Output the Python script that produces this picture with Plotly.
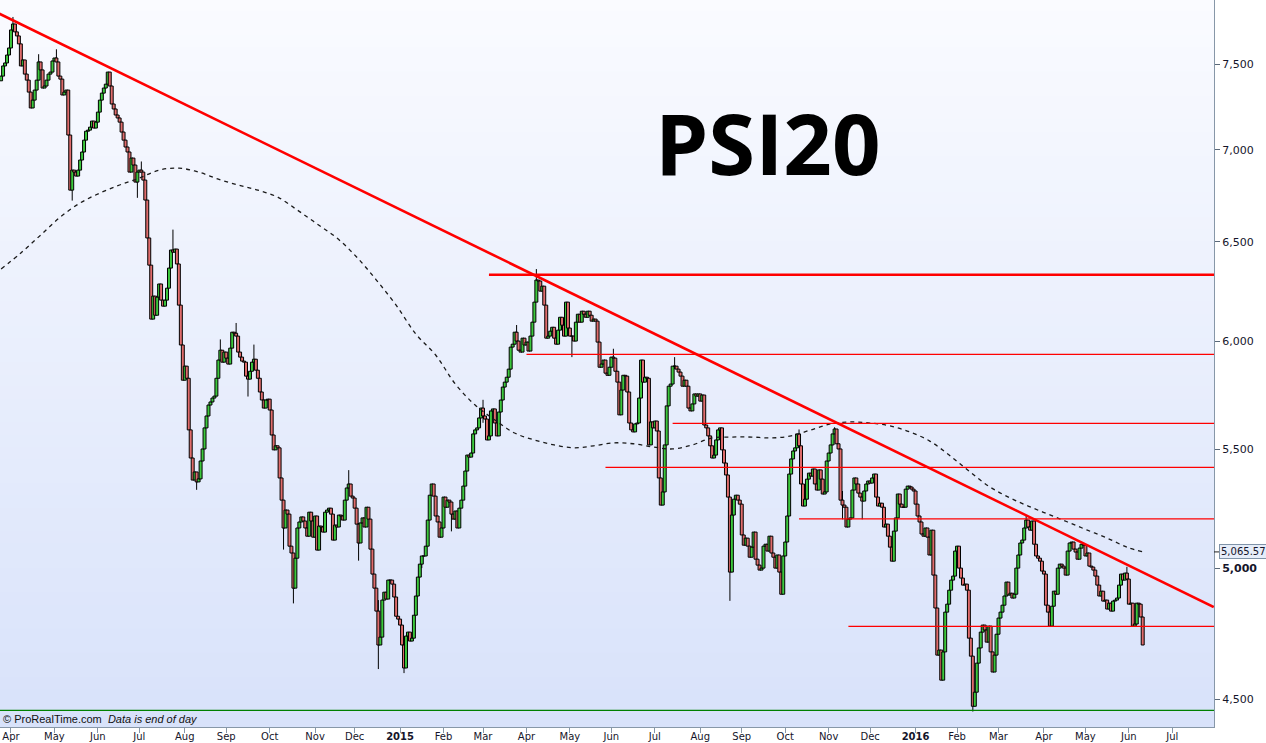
import numpy as np
import pandas as pd
import plotly.graph_objects as go

# ---------------- data ----------------
first_open = 7400
closes_2014 = [
    7428, 7489, 7507, 7555, 7598,
    7709, 7746, 7697, 7672, 7623, 7489, 7525, 7440, 7404, 7333, 7240, 7286, 7345, 7404, 7513, 7465, 7357, 7369, 7404, 7440, 7452, 7519,
    7537, 7513, 7428, 7410, 7316, 7333, 7345, 7084, 6777, 6887, 6876, 6854, 6887, 6943, 6988, 7055, 7106, 7112, 7129, 7164, 7124, 7158,
    7216, 7286, 7327, 7357, 7380, 7452, 7369, 7263, 7234, 7199, 7182, 7158, 7101, 7055, 7016, 6988, 6876, 6954, 6915, 6821, 6876,
    6887, 6876, 6832, 6723, 6521, 6380, 6109, 6223, 6128, 6218, 6284, 6203, 6173, 6203, 6263, 6365, 6458, 6447, 6463, 6386, 6178, 5983, 5816,
    5882, 5825, 5588, 5463, 5367, 5402, 5359, 5372, 5450, 5503, 5597, 5651, 5701, 5715, 5733, 5742, 5825, 5911, 5958, 5901, 5949,
    5920, 5892, 5968, 6045, 6040, 6026, 5949, 5925, 5906, 5901, 5835, 5821, 5858, 5901, 5915, 5863, 5825, 5761, 5724, 5687, 5724, 5728,
    5678, 5565, 5499, 5517, 5508, 5376, 5281, 5164, 5239, 5222, 5089, 5061, 4920, 5040, 5164, 5189, 5210, 5193, 5164, 5130, 5230, 5193, 5126,
    5214, 5073, 5172, 5168, 5147, 5230, 5239, 5247, 5222, 5114, 5176, 5168, 5218, 5214, 5197, 5281, 5333, 5350, 5298, 5290,
    5247, 5180, 5102, 5185, 5206, 5168, 5251, 5201, 5077, 4976, 4920, 4830, 4700, 4730, 4873, 4904, 4877, 4952, 4952, 4936, 4885, 4810, 4799,
]
closes_2015 = [
    4776, 4700, 4614, 4734, 4749, 4715, 4726, 4814, 4889, 4964, 5016, 5049, 5049, 5089, 5197, 5302, 5350, 5298, 5214, 5189, 5126, 5164,
    5294, 5251, 5281, 5273, 5222, 5201, 5235, 5164, 5247, 5281, 5341, 5406, 5476, 5467, 5485, 5570, 5588, 5597, 5642, 5687,
    5651, 5637, 5543, 5561, 5674, 5683, 5619, 5561, 5669, 5724, 5784, 5807, 5830, 5868, 5973, 5987, 6045, 6002, 5958, 5949, 6016, 5983,
    5997, 5954, 6026, 6094, 6193, 6304, 6299, 6248, 6273, 6178, 6016, 6026, 6050, 6069, 6016, 5987, 6055, 6118, 6079, 6026, 6193, 6065,
    6026, 6026, 6002, 6094, 6133, 6094, 6148, 6133, 6118, 6148, 6128, 6099, 6109, 6099, 5997, 5877, 5892, 5911, 5849, 5839, 5877,
    5925, 5920, 5858, 5807, 5656, 5770, 5839, 5835, 5761, 5619, 5588, 5579, 5615, 5619, 5733, 5911, 5807, 5830, 5825, 5521, 5624, 5597,
    5628, 5583, 5376, 5260, 5316, 5521, 5697, 5788, 5798, 5882, 5882, 5868, 5854, 5835, 5788, 5816, 5788, 5687, 5674, 5706, 5752, 5742, 5752,
    5719, 5747, 5610, 5597, 5561, 5517, 5463, 5476, 5543, 5588, 5597, 5499, 5441, 5389, 5294, 4984, 5218, 5285, 5302, 5281, 5264,
    5135, 5093, 5122, 5089, 5044, 5085, 5147, 5036, 5012, 4992, 5000, 5089, 5097, 5069, 5130, 5061, 5044, 5000, 5053, 4984, 4896, 5049,
    5106, 5214, 5393, 5459, 5494, 5508, 5570, 5517, 5350, 5256, 5285, 5371, 5397, 5384, 5415, 5350, 5324, 5411, 5371, 5307, 5316, 5450,
    5485, 5521, 5570, 5592, 5526, 5503, 5281, 5260, 5251, 5168, 5201, 5206, 5324, 5376, 5350, 5311, 5294, 5277, 5320, 5350, 5363,
    5354, 5376, 5393, 5294, 5256, 5268, 5251, 5168, 5180, 5130, 5085, 5028, 5151, 5206, 5307, 5264, 5251, 5251, 5328, 5341, 5337, 5328, 5320,
]
closes_2016 = [
    5264, 5214, 5189, 5139, 5130, 5164, 5126, 5053, 5155, 4972, 4842, 4662, 4681, 4569, 4674, 4826, 4857, 4912, 4952, 4968, 5069,
    5089, 5000, 4960, 4932, 4936, 4912, 4726, 4658, 4474, 4525, 4632, 4689, 4749, 4776, 4757, 4711, 4772, 4674, 4599, 4662, 4741,
    4803, 4826, 4853, 4889, 4944, 4893, 4900, 4881, 4896, 5000, 5053, 5102, 5114, 5164, 5197, 5168, 5155, 5193, 5097, 5049, 5040, 5028, 4988,
    4976, 4853, 4826, 4772, 4849, 4908, 4896, 5000, 5016, 5008, 5000, 4972, 5069, 5102, 5106, 5077, 5065, 5036, 5081, 5097, 5093,
    5049, 5061, 5008, 5004, 4992, 4968, 4932, 4889, 4908, 4869, 4873, 4838, 4861, 4830, 4869, 4873, 4881, 4932, 4976, 4952, 4980, 4956,
    4857, 4861, 4772, 4780, 4861, 4857, 4807, 4700,
]
# sessions with visible shadows (wicks): date, high, low
wick_dates = ["2014-04-02", "2014-04-21", "2014-05-02", "2014-05-14", "2014-06-30", "2014-07-02",
              "2014-07-24", "2014-08-11", "2014-08-27", "2014-09-08", "2014-09-16", "2014-09-19",
              "2014-10-10", "2014-10-17", "2014-11-26", "2014-12-03", "2014-12-17", "2015-01-05",
              "2015-01-16", "2015-02-06", "2015-03-02", "2015-03-25", "2015-04-08", "2015-05-04",
              "2015-06-02", "2015-07-15", "2015-08-24", "2015-10-12", "2015-11-05", "2015-11-11",
              "2015-11-25", "2016-02-11", "2016-03-21", "2016-05-31"]
wick_highs = [7790, 7560, 7590, 6887, 6876, 6935,
              6565, 5372, 6010, 6090, 5821, 5985,
              5281, 5061, 5410, 5185, 4873, 4700,
              5049, 5273, 5725, 6080, 6360, 6026,
              5965, 5925, 5294, 5590, 5600, 5320,
              5294, 4658, 5215, 5005]
wick_lows = [7709, 7404, 7513, 6720, 6735, 6876,
             6458, 5325, 5911, 6045, 5740, 5915,
             5075, 4860, 5333, 5030, 4610, 4595,
             5000, 5150, 5620, 6002, 6304, 5925,
             5920, 5868, 4870, 5517, 5592, 5200,
             5200, 4455, 5164, 4956]
# moving average (dashed), read every 10 sessions plus the last session
ma_values = [
    6360, 6443, 6536, 6632, 6707, 6761, 6805, 6843, 6887, 6898,
    6876, 6837, 6805, 6777, 6739, 6669, 6595, 6521, 6422, 6304,
    6178, 6036, 5935, 5798, 5701, 5633, 5574, 5543, 5521, 5508,
    5517, 5530, 5526, 5512, 5503, 5521, 5552, 5556, 5556, 5552,
    5561, 5588, 5615, 5624, 5619, 5606, 5579, 5539, 5476, 5406,
    5341, 5294, 5256, 5222, 5189, 5155, 5122, 5085, 5065.57,
]
level_prices = [6331, 5938, 5617, 5422, 5202, 4771]
level_starts = ["2015-03-05", "2015-04-01", "2015-07-14", "2015-05-27", "2015-10-12", "2015-11-16"]
level_widths = [2.5, 1.2, 1.2, 1.2, 1.2, 1.2]
support_price = 4459
trend_dates = ["2014-03-24", "2016-08-01"]
trend_prices = [7811, 4846]
y_ticks = [4500, 5000, 5500, 6000, 6500, 7000, 7500]
title_text = "PSI20"

# ---------------- build ----------------
closes = closes_2014 + closes_2015 + closes_2016
days = pd.bdate_range("2014-03-25", periods=len(closes))
all_days = pd.bdate_range("2014-03-17", "2016-08-31")
origin = all_days.get_loc(days[0])
pos = {d: i - origin for i, d in enumerate(all_days)}

def P(d):
    return pos[pd.Timestamp(d)]

x = [pos[d] for d in days]
opens = [first_open] + closes[:-1]
body_lo = [min(o, c) for o, c in zip(opens, closes)]
body_hi = [max(o, c) for o, c in zip(opens, closes)]
body_h = [abs(c - o) for o, c in zip(opens, closes)]
body_col = ["#3cc83c" if c >= o else "#e06c6c" for o, c in zip(opens, closes)]

# wick segments outside the bodies
wx, wy = [], []
for d, h, l in zip(wick_dates, wick_highs, wick_lows):
    i = P(d)
    if h > body_hi[i]:
        wx += [i, i, None]
        wy += [body_hi[i], h, None]
    if l < body_lo[i]:
        wx += [i, i, None]
        wy += [l, body_lo[i], None]

fig = go.Figure()

# gradient background bands
n_bands = 60
top = np.array([250, 251, 255])
bot = np.array([216, 226, 250])
for k in range(n_bands):
    t = (k + 0.5) / n_bands
    c = top + (bot - top) * t
    fig.add_shape(type="rect", xref="paper", yref="paper", x0=0, x1=1,
                  y0=1 - (k + 1) / n_bands, y1=1 - k / n_bands + 0.002,
                  fillcolor="rgb(%d,%d,%d)" % tuple(c.round()), line_width=0, layer="below")

# candle bodies (open -> close), black outlined
fig.add_trace(go.Bar(x=x, y=body_h, base=body_lo, width=1.5,
                     marker=dict(color=body_col, line=dict(color="#000000", width=1)),
                     showlegend=False, hoverinfo="skip"))
fig.add_trace(go.Scatter(x=wx, y=wy, mode="lines", line=dict(color="#000000", width=1),
                         showlegend=False, hoverinfo="skip"))

ma_x = [pos[d] for d in days[::10]] + [x[-1]]
fig.add_trace(go.Scatter(x=ma_x, y=ma_values, mode="lines",
                         line=dict(color="#1a1a1a", width=1.3, dash="4px,4px", shape="spline"),
                         showlegend=False, hoverinfo="skip"))

x_end = P("2016-08-02")
for p, s, w in zip(level_prices, level_starts, level_widths):
    fig.add_trace(go.Scatter(x=[P(s), x_end], y=[p, p], mode="lines",
                             line=dict(color="#ff0000", width=w), showlegend=False, hoverinfo="skip"))
fig.add_trace(go.Scatter(x=[P("2014-03-20"), x_end], y=[support_price, support_price], mode="lines",
                         line=dict(color="#008000", width=1.2), showlegend=False, hoverinfo="skip"))
fig.add_trace(go.Scatter(x=[P(d) for d in trend_dates], y=trend_prices, mode="lines",
                         line=dict(color="#ff0000", width=2.6), showlegend=False, hoverinfo="skip"))

# month ticks
months = pd.date_range("2014-04-01", "2016-07-01", freq="MS")
tickvals, ticktext = [], []
for m in months:
    d = all_days[all_days >= m][0]
    tickvals.append(pos[d])
    ticktext.append("<b>%d</b>" % m.year if m.month == 1 else m.strftime("%b"))

ytext = ["<b>{:,}</b>".format(v) if v == 5000 else "{:,}".format(v) for v in y_ticks]

fig.update_layout(
    width=1266, height=743, autosize=False,
    margin=dict(l=0, r=52, t=0, b=16),
    paper_bgcolor="#ffffff", plot_bgcolor="rgba(0,0,0,0)",
    font=dict(family="DejaVu Sans", size=11, color="#15152a"),
    xaxis=dict(range=[-0.56, 614.1], tickvals=tickvals, ticktext=ticktext, automargin=False,
               showgrid=False, zeroline=False,
               showline=True, linecolor="#8797a8", linewidth=1,
               ticks="outside", ticklen=5, tickcolor="#8797a8", ticklabelstandoff=-5,
               tickfont=dict(family="DejaVu Sans", size=10, color="#15152a")),
    yaxis=dict(type="log", range=[np.log10(4400), np.log10(7897)], side="right", automargin=False,
               tickvals=y_ticks, ticktext=ytext, showgrid=False, zeroline=False,
               showline=True, linecolor="#8797a8", linewidth=1,
               ticks="outside", ticklen=5, tickcolor="#5a6878",
               tickfont=dict(family="DejaVu Sans", size=11, color="#15152a")),
    showlegend=False,
)

fig.add_annotation(text="<b>%s</b>" % title_text, xref="paper", yref="paper",
                   x=768 / 1214, y=1 - 142 / 727, xanchor="center", yanchor="middle",
                   showarrow=False, font=dict(family="Open Sans", size=85, color="#000000"))
fig.add_annotation(text="© ProRealTime.com  <i>Data is end of day</i>", xref="paper", yref="paper",
                   x=0.001, y=1 - 719 / 727, xanchor="left", yanchor="middle", showarrow=False,
                   font=dict(family="Liberation Sans", size=11, color="#111111"))
fig.add_annotation(text="{:,.2f}".format(ma_values[-1]), xref="paper", yref="y",
                   x=1.0, y=np.log10(ma_values[-1]), xanchor="left", yanchor="middle",
                   ax=5, ay=0, showarrow=True, arrowhead=0, arrowwidth=1, arrowcolor="#222222",
                   bgcolor="#e6edf9", bordercolor="#7f93a8", borderwidth=1, borderpad=1,
                   font=dict(family="DejaVu Sans", size=10, color="#15152a"))

fig.write_html("out.html", config={"displayModeBar": False},
               post_script="document.body.style.margin='0';document.body.style.overflow='hidden';")
